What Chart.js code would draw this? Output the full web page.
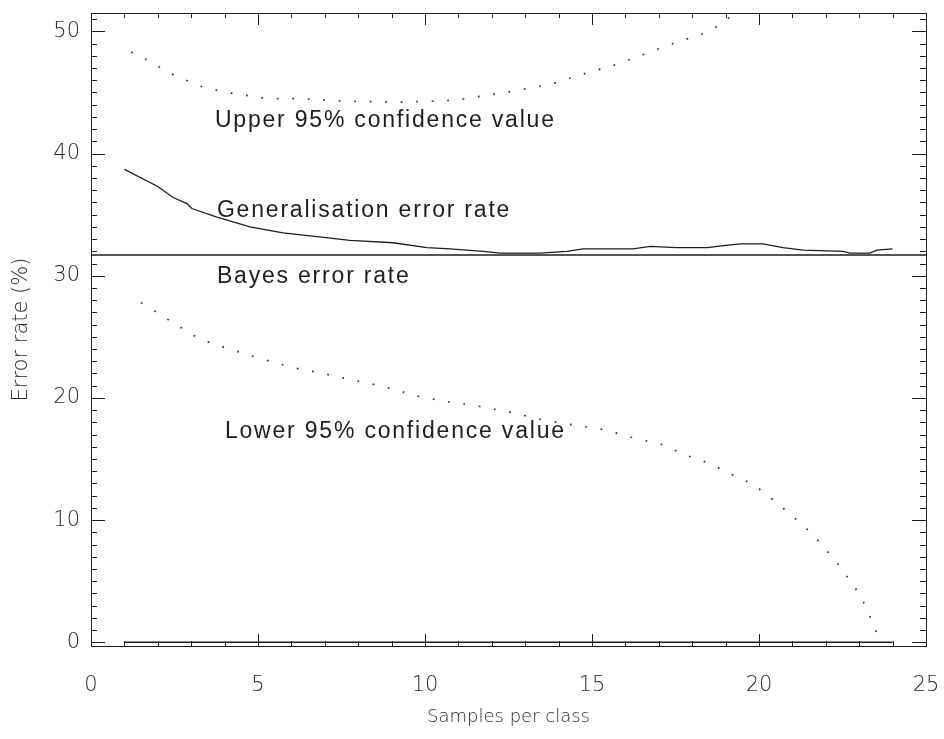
<!DOCTYPE html>
<html>
<head>
<meta charset="utf-8">
<title>Error rate vs samples per class</title>
<script src="https://cdn.jsdelivr.net/npm/chart.js@4.4.0/dist/chart.umd.min.js"></script>
<style>
  html, body { margin: 0; padding: 0; background: #fff; }
</style>
</head>
<body>
<canvas id="errChart" width="944" height="739"></canvas>
<script>
// axis ticks
const xTicks = [0, 5, 10, 15, 20, 25];
const yTicks = [0, 10, 20, 30, 40, 50];

// upper 95% confidence bound (dotted)
const upperX = [1.2, 1.65, 2.49, 3.38, 4.28, 5.27, 6.26, 7.46, 9.25, 10.45, 11.0, 11.44, 11.95, 12.84, 13.8, 14.73, 15.63, 16.53, 17.43, 18.32, 18.74, 19.3, 19.8];
const upperY = [48.3, 47.7, 46.4, 45.4, 44.9, 44.5, 44.5, 44.3, 44.2, 44.3, 44.4, 44.6, 44.8, 45.2, 45.7, 46.5, 47.2, 48.1, 49.0, 49.8, 50.4, 51.5, 52.3];

// generalisation error rate (solid)
const genX = [1.0, 2.0, 2.46, 2.87, 3.02, 3.77, 4.76, 5.75, 6.77, 7.75, 9.04, 10.06, 10.75, 11.74, 12.25, 13.44, 14.25, 14.73, 16.23, 16.74, 17.54, 18.47, 18.74, 19.43, 20.12, 20.72, 21.32, 22.51, 22.72, 23.32, 23.53, 24.0];
const genY = [38.7, 37.3, 36.4, 35.9, 35.5, 34.8, 34.0, 33.5, 33.2, 32.9, 32.7, 32.3, 32.2, 32.0, 31.85, 31.85, 32.0, 32.2, 32.2, 32.4, 32.3, 32.3, 32.4, 32.6, 32.6, 32.3, 32.1, 32.0, 31.85, 31.85, 32.1, 32.2];

// Bayes error rate (horizontal)
const bayesX = [0, 25];
const bayesY = [31.7, 31.7];

// lower 95% confidence bound (dotted)
const lowerX = [1.5, 2.43, 3.26, 4.16, 5.09, 6.02, 6.95, 7.43, 8.65, 9.85, 10.66, 11.65, 12.6, 13.53, 14.43, 15.36, 16.29, 17.22, 17.63, 18.56, 18.98, 19.85, 20.63, 21.35, 21.68, 22.31, 22.87, 23.11, 23.32, 23.5, 23.6];
const lowerY = [27.8, 26.2, 24.8, 24.0, 23.2, 22.5, 22.0, 21.7, 21.0, 20.1, 19.7, 19.3, 18.8, 18.2, 17.8, 17.4, 16.7, 16.1, 15.5, 14.6, 14.0, 12.9, 11.2, 9.5, 8.6, 6.6, 4.5, 3.4, 2.1, 0.9, 0.2];

// training error (flat at zero)
const trainX = [1, 24];
const trainY = [0, 0];

const toPoints = (xs, ys) => xs.map((x, i) => ({ x: x, y: ys[i] }));

// text written next to each curve, in data units
const notes = [
  { text: 'Upper 95% confidence value', x: 3.71, y: 42.2 },
  { text: 'Generalisation error rate', x: 3.77, y: 34.8 },
  { text: 'Bayes error rate', x: 3.77, y: 29.4 },
  { text: 'Lower 95% confidence value', x: 4.01, y: 16.7 }
];

const ink = '#1e1e1e';
const axisInk = '#2a2a2a';
const axisFont = { family: 'DejaVu Sans', size: 21, weight: 200 };
const titleFont = { family: 'DejaVu Sans', size: 18, weight: 200 };

// keep the plot box fixed: no extra room for labels hanging past the ends
const noOverhang = s => {
  s.paddingLeft = 0; s.paddingRight = 0; s.paddingTop = 0; s.paddingBottom = 0;
};

// box round the plot with inward ticks on all four sides
const frameTicks = {
  id: 'frameTicks',
  afterDatasetsDraw(chart) {
    const { ctx, chartArea: a, scales: { x, y } } = chart;
    ctx.save();
    ctx.strokeStyle = ink;
    ctx.lineWidth = 1;
    ctx.strokeRect(a.left + 0.5, a.top + 0.5, a.right - a.left, a.bottom - a.top);
    ctx.beginPath();
    for (let v = Math.ceil(x.min); v <= x.max; v++) {
      const px = Math.round(x.getPixelForValue(v)) + 0.5;
      const len = v % 5 === 0 ? 12 : 5;
      ctx.moveTo(px, a.bottom); ctx.lineTo(px, a.bottom - len);
      ctx.moveTo(px, a.top); ctx.lineTo(px, a.top + len);
    }
    for (let v = Math.ceil(y.min); v <= y.max; v++) {
      const py = Math.round(y.getPixelForValue(v)) + 0.5;
      const len = v % 10 === 0 ? 14 : 6;
      ctx.moveTo(a.left, py); ctx.lineTo(a.left + len, py);
      ctx.moveTo(a.right, py); ctx.lineTo(a.right - len, py);
    }
    ctx.stroke();
    ctx.restore();
  }
};

const curveNotes = {
  id: 'curveNotes',
  afterDraw(chart) {
    const { ctx, scales: { x, y } } = chart;
    ctx.save();
    ctx.font = '23px "Liberation Sans", Arial, sans-serif';
    ctx.fillStyle = ink;
    ctx.textAlign = 'left';
    ctx.textBaseline = 'alphabetic';
    if ('letterSpacing' in ctx) ctx.letterSpacing = '1.8px';
    notes.forEach(n => ctx.fillText(n.text, x.getPixelForValue(n.x), y.getPixelForValue(n.y)));
    ctx.restore();
  }
};

new Chart(document.getElementById('errChart'), {
  type: 'line',
  data: {
    datasets: [
      { label: 'Upper 95% confidence value', data: toPoints(upperX, upperY), borderColor: '#333', borderWidth: 1.7, borderDash: [1.7, 13.8] },
      { label: 'Generalisation error rate', data: toPoints(genX, genY), borderColor: ink, borderWidth: 1.3 },
      { label: 'Bayes error rate', data: toPoints(bayesX, bayesY), borderColor: ink, borderWidth: 1.6 },
      { label: 'Lower 95% confidence value', data: toPoints(lowerX, lowerY), borderColor: '#333', borderWidth: 1.7, borderDash: [1.7, 13.8] },
      { label: 'Training error rate', data: toPoints(trainX, trainY), borderColor: ink, borderWidth: 1.5 }
    ]
  },
  options: {
    responsive: false,
    animation: false,
    devicePixelRatio: 1,
    layout: { padding: { top: 13, right: 18, left: 0, bottom: 0 } },
    elements: { point: { radius: 0 }, line: { tension: 0 } },
    plugins: { legend: { display: false }, tooltip: { enabled: false } },
    scales: {
      x: {
        type: 'linear', min: 0, max: 25,
        grid: { display: false, drawTicks: false },
        border: { display: false },
        afterBuildTicks: s => { s.ticks = xTicks.map(v => ({ value: v })); },
        afterFit: s => { s.height = 93; noOverhang(s); },
        ticks: { padding: 27, font: axisFont, color: axisInk, maxRotation: 0 },
        title: { display: true, text: 'Samples per class', font: titleFont, color: axisInk, padding: { top: 0, bottom: 11 } }
      },
      y: {
        type: 'linear', min: -0.3, max: 51.5,
        grid: { display: false, drawTicks: false },
        border: { display: false },
        afterBuildTicks: s => { s.ticks = yTicks.map(v => ({ value: v })); },
        afterFit: s => { s.width = 91; noOverhang(s); },
        ticks: { padding: 11, font: axisFont, color: axisInk },
        title: { display: true, text: 'Error rate (%)', font: { family: 'DejaVu Sans', size: 21, weight: 200 }, color: axisInk, padding: { top: 9, bottom: 0 } }
      }
    }
  },
  plugins: [frameTicks, curveNotes]
});
</script>
</body>
</html>
